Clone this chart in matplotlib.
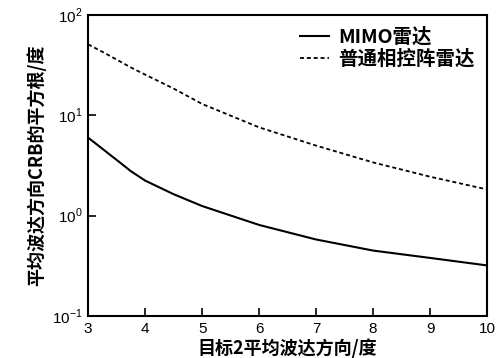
import numpy as np
import matplotlib
matplotlib.use("Agg")
import matplotlib.pyplot as plt

plt.rcParams['font.family'] = ['Noto Sans CJK SC', 'DejaVu Sans']
plt.rcParams['mathtext.fontset'] = 'custom'
plt.rcParams['mathtext.rm'] = 'Liberation Sans'

# 目标2平均波达方向（度）
doa = [3, 3.25, 3.5, 3.75, 4, 4.5, 5, 6, 7, 8, 9, 10]
# 两种雷达的CRB平方根（度）
crb_mimo = [6.0, 4.65, 3.6, 2.78, 2.24, 1.64, 1.25, 0.81, 0.58, 0.45, 0.38, 0.32]
crb_phased = [51, 43, 36, 30, 25.5, 18.5, 13, 7.6, 5.0, 3.4, 2.45, 1.83]

labels = ['MIMO雷达', '普通相控阵雷达']
xticks = [3, 4, 5, 6, 7, 8, 9, 10]
yticks = [0.1, 1, 10, 100]
yticklabels = [r'$10^{-1}$', r'$10^{0}$', r'$10^{1}$', r'$10^{2}$']

fig = plt.figure(figsize=(4.98, 3.58), dpi=100)
ax = fig.add_axes([0.177, 0.117, 0.801, 0.841])

ax.plot(doa, crb_mimo, color='black', linewidth=1.5, label=labels[0])
ax.plot(doa, crb_phased, color='black', linewidth=1.3, linestyle=(0, (2.2, 1.6)),
        label=labels[1])

ax.set_yscale('log')
ax.set_xlim(3, 10)
ax.set_ylim(0.1, 100)
ax.set_xticks(xticks)
ax.set_xticklabels([str(t) for t in xticks], fontfamily='Liberation Sans', fontsize=11)
ax.set_yticks(yticks)
ax.set_yticklabels(yticklabels, fontsize=11)
ax.yaxis.set_minor_locator(matplotlib.ticker.NullLocator())
ax.tick_params(direction='in', length=6, width=1.2, pad=4)

for s in ax.spines.values():
    s.set_linewidth(1.5)

ax.set_xlabel('目标2平均波达方向/度', fontsize=13, fontweight='bold', labelpad=2)
ax.set_ylabel('平均波达方向CRB的平方根/度', fontsize=13, fontweight='bold', labelpad=4)

ax.legend(loc='upper right', bbox_to_anchor=(1.0, 1.0), frameon=False,
          prop={'size': 14, 'weight': 'bold'}, handlelength=1.5,
          handletextpad=0.45, labelspacing=0.1, borderaxespad=0.25)

fig.savefig('out.png', dpi=100)
